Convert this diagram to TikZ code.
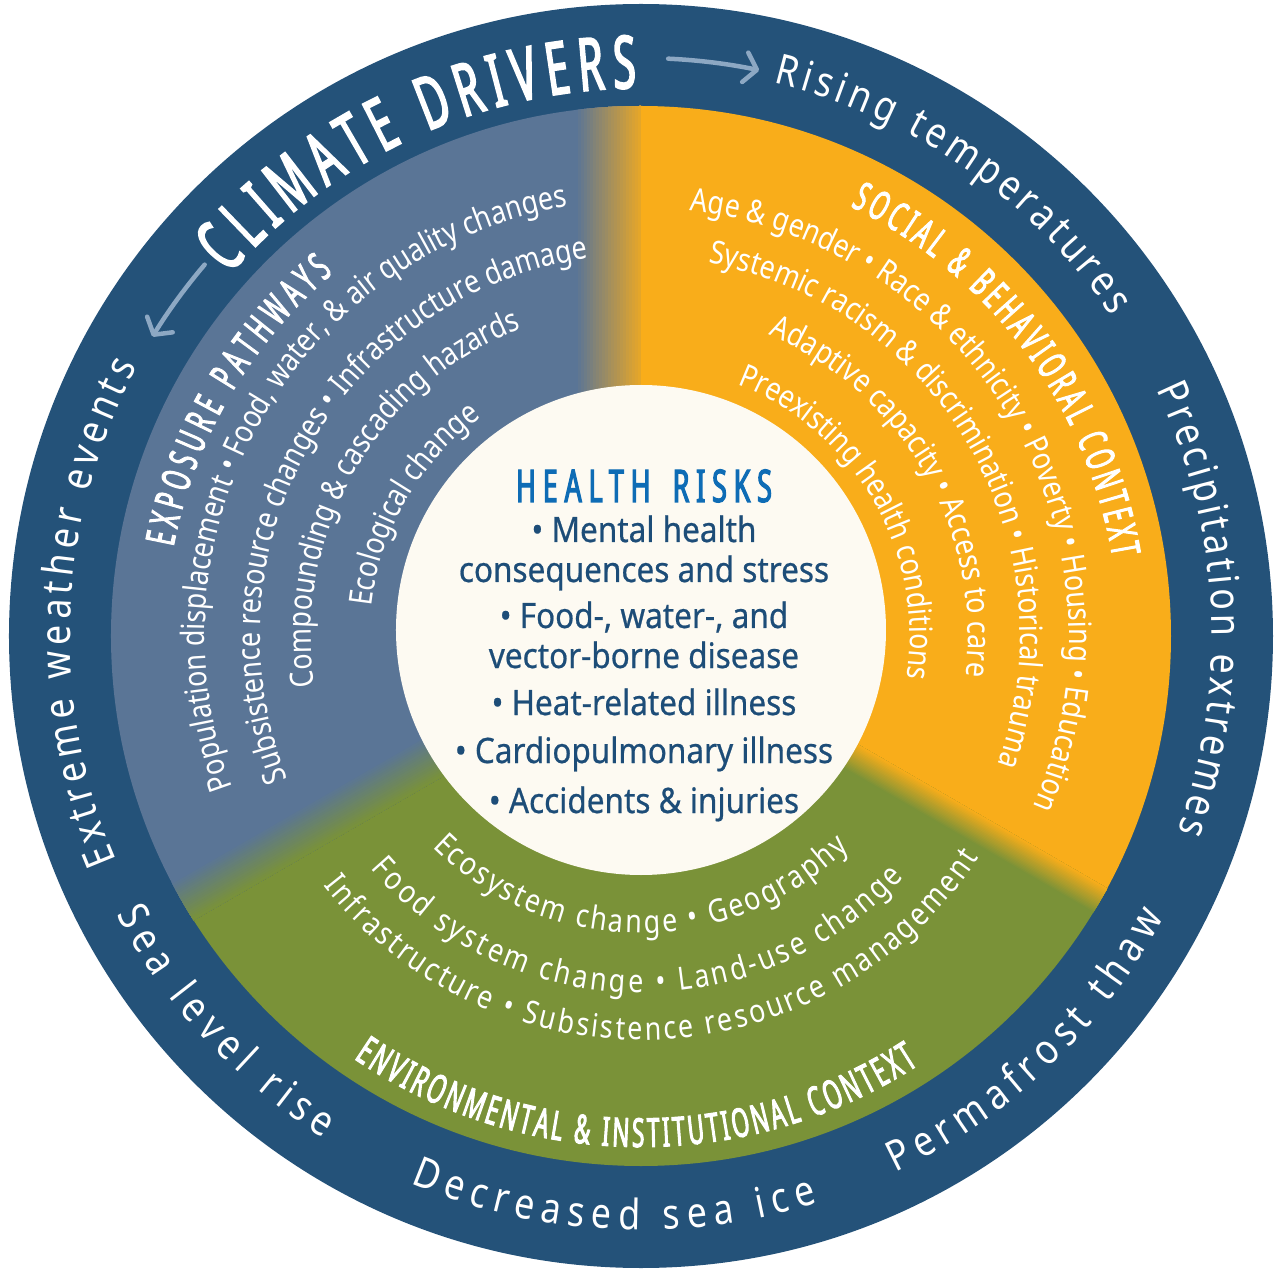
\documentclass[tikz,border=0pt]{standalone}
\usepackage{fontspec}
\setmainfont{Noto Sans}
\usetikzlibrary{decorations.text,arrows.meta}
\newfontfamily\ringfont[FakeStretch=0.85]{Noto Sans}
\newfontfamily\secfont[FakeStretch=0.84]{Noto Sans}
\newfontfamily\headfont[FakeStretch=0.56,FakeBold=2.5]{Noto Sans}
\newfontfamily\hrfamily[FakeStretch=0.6,LetterSpace=15,FakeBold=2.5]{Noto Sans}
\newfontfamily\centerfont[FakeStretch=0.9,FakeBold=0.6]{Noto Sans}
\definecolor{ringblue}{HTML}{245279}
\definecolor{expblue}{HTML}{5A7596}
\definecolor{socorange}{HTML}{F9AD1A}
\definecolor{envgreen}{HTML}{7A9238}
\definecolor{corefill}{HTML}{FDFAF2}
\definecolor{hrblue}{HTML}{0E6CB5}
\definecolor{itemblue}{HTML}{1D4D78}
\definecolor{arrowgrey}{HTML}{8DA8C3}
\newcommand{\secfmt}{\secfont\fontsize{32}{36}\selectfont}
\newcommand{\headfmt}{\headfont\fontsize{40}{46}\selectfont}
\newcommand{\ringfmt}{\ringfont\fontsize{42}{48}\selectfont}
\newcommand{\itemfmt}{\centerfont\fontsize{35}{40}\selectfont}
\begin{document}
\begin{tikzpicture}[x=1pt,y=1pt,
  arctext/.style={decorate, decoration={text along path, text color=white, text align=center, text={#1}}},
  fittext/.style={decorate, decoration={text along path, text color=white, text align=fit to path, text={#1}}},
  item/.style={anchor=base, font=\itemfmt, text=itemblue, inner sep=0pt},
  driverarrow/.style={draw=arrowgrey, line width=4.5pt, line cap=round, -{Straight Barb[length=12pt,width=30pt,round]}}]
\useasboundingbox (-641,-636) rectangle (637,636);
% outer ring
\fill[ringblue] (0,0) circle[radius=632];
% sectors
\begin{scope}
  \clip (0,0) circle[radius=530];
  \fill[socorange] (0,0) -- (90:560) arc[start angle=90,end angle=-30,radius=560] -- cycle;
  \fill[expblue] (0,0) -- (90:560) arc[start angle=90,end angle=210,radius=560] -- cycle;
  \fill[envgreen] (0,0) -- (210:560) arc[start angle=210,end angle=330,radius=560] -- cycle;
  % blend blue -> orange at the top
  \foreach \i in {0,...,22} {
    \pgfmathtruncatemacro\p{92*\i/22}
    \fill[socorange!\p!expblue] ({-66+3*\i},0) rectangle (0,560);
  }
  % blend blue -> green
  \begin{scope}[rotate=210]
    \foreach \i in {0,...,20} {
      \pgfmathtruncatemacro\p{100*\i/20}
      \fill[envgreen!\p!expblue] (0,{-22+2.2*\i}) rectangle (560,22.5);
    }
  \end{scope}
  % blend green -> orange
  \begin{scope}[rotate=330]
    \foreach \i in {0,...,20} {
      \pgfmathtruncatemacro\p{100*\i/20}
      \fill[socorange!\p!envgreen] (0,{-14+1.4*\i}) rectangle (560,14.5);
    }
  \end{scope}
\end{scope}
% centre disc
\node[circle, fill=corefill, minimum size=490pt, inner sep=0pt] (core) at (0,6) {};

% ring texts
\path[fittext={|\headfont\fontsize{73}{80}\selectfont|CLIMATE DRIVERS}]
  (138.7:548) arc[start angle=138.7, end angle=90.5, radius=548];
\path[fittext={|\ringfmt|Rising temperatures}]
  (76.5:569) arc[start angle=76.5, end angle=34.2, radius=569];
\path[fittext={|\ringfmt|Precipitation extremes}]
  (25.6:571) arc[start angle=25.6, end angle=-20, radius=571];
\path[fittext={|\ringfmt|Extreme weather events}]
  (203.2:571) arc[start angle=203.2, end angle=151.9, radius=571];
\path[fittext={|\ringfmt|Permafrost thaw}]
  (295.4:594) arc[start angle=295.4, end angle=331.7, radius=594];
\path[fittext={|\ringfmt|Decreased sea ice}]
  (247.2:594) arc[start angle=247.2, end angle=287.3, radius=594];
\path[fittext={|\ringfmt|Sea level rise}]
  (208:594) arc[start angle=208, end angle=237.7, radius=594];

% arrows in the ring
\coordinate (la1) at (139.6:573);
\coordinate (ra1) at (87.3:578);
\draw[driverarrow] (la1) arc[start angle=139.6, end angle=148.5, radius=573];
\draw[driverarrow] (ra1) arc[start angle=87.3, end angle=78.2, radius=578];

% exposure pathways (blue)
\path[fittext={|\headfmt|EXPOSURE PATHWAYS}]
  (169.2:476) arc[start angle=169.2, end angle=130.3, radius=476];
\path[arctext={|\secfmt|Population displacement • Food, water, {\&} air quality changes}]
  (240:436) arc[start angle=240, end angle=60, radius=436];
\path[arctext={|\secfmt|Subsistence resource changes • Infrastructure damage}]
  (240:381) arc[start angle=240, end angle=60, radius=381];
\path[arctext={|\secfmt|Compounding {\&} cascading hazards}]
  (240:330) arc[start angle=240, end angle=60, radius=330];
\path[arctext={|\secfmt|Ecological change}]
  (240:271) arc[start angle=240, end angle=60, radius=271];

% social & behavioral (orange)
\path[fittext={|\headfmt|SOCIAL {\&} BEHAVIORAL CONTEXT}]
  (64:478) arc[start angle=64, end angle=9.5, radius=478];
\path[arctext={|\secfmt|Age {\&} gender • Race {\&} ethnicity • Poverty • Housing • Education}]
  (120:428) arc[start angle=120, end angle=-60, radius=428];
\path[arctext={|\secfmt|Systemic racism {\&} discrimination • Historical trauma}]
  (120:379) arc[start angle=120, end angle=-60, radius=379];
\path[arctext={|\secfmt|Adaptive capacity • Access to care}]
  (120:327) arc[start angle=120, end angle=-60, radius=327];
\path[arctext={|\secfmt|Preexisting health conditions}]
  (120:269) arc[start angle=120, end angle=-60, radius=269];

% environmental & institutional (green)
\path[fittext={|\secfmt|Ecosystem change • Geography}]
  (225.3:297) arc[start angle=225.3, end angle=314.4, radius=297];
\path[fittext={|\secfmt|Food system change • Land-use change}]
  (220.7:357) arc[start angle=220.7, end angle=317.4, radius=357];
\path[fittext={|\secfmt|Infrastructure • Subsistence resource management}]
  (218.1:404) arc[start angle=218.1, end angle=326.7, radius=404];
\path[fittext={|\headfmt|ENVIRONMENTAL {\&} INSTITUTIONAL CONTEXT}]
  (235.8:511) arc[start angle=235.8, end angle=302.9, radius=511];

% health risks
\node[anchor=base, inner sep=0pt, text=hrblue] (hr) at (3,134)
  {\hrfamily\fontsize{45}{50}\selectfont HEALTH\kern 22pt RISKS};
\node[item] (i1) at (3,94) {• Mental health};
\node[item] (i1b) at (3,54) {consequences and stress};
\node[item] (i2) at (3,8) {• Food-, water-, and};
\node[item] (i2b) at (3,-32) {vector-borne disease};
\node[item] (i3) at (3,-79) {• Heat-related illness};
\node[item] (i4) at (3,-127) {• Cardiopulmonary illness};
\node[item] (i5) at (3,-177) {• Accidents {\&} injuries};
\end{tikzpicture}
\end{document}
